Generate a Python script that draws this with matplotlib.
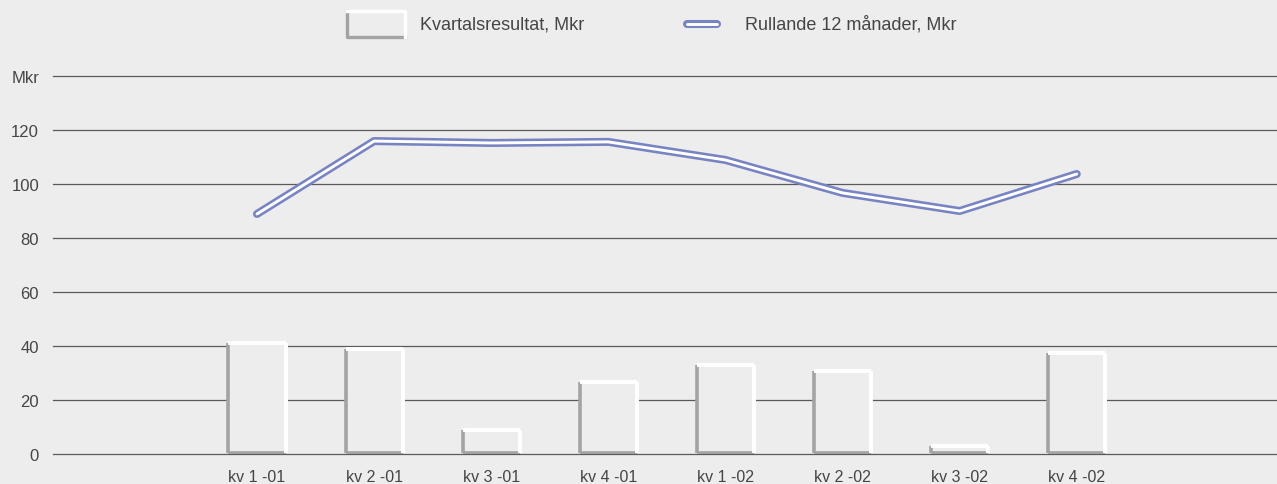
"""
Kvartalsresultat och rullande 12 manader, Mkr.
"""
import matplotlib
matplotlib.use("Agg")
import matplotlib.pyplot as plt
from matplotlib.patches import Rectangle
from matplotlib.lines import Line2D

quarters = ['kv 1 -01', 'kv 2 -01', 'kv 3 -01', 'kv 4 -01',
            'kv 1 -02', 'kv 2 -02', 'kv 3 -02', 'kv 4 -02']
kvartal = [40.7, 38.5, 8.5, 26.3, 32.6, 30.4, 2.6, 37.0]
rullande = [88.9, 115.9, 115.2, 115.6, 108.9, 96.7, 90.0, 103.7]
ytick_values = [0, 20, 40, 60, 80, 100, 120, 140]
ytick_labels = ['0', '20', '40', '60', '80', '100', '120', 'Mkr']

BG = '#ededed'
BLUE = '#7884c2'
DARK = '#454545'
SHADE = '#a3a3a3'
FONT = 'Liberation Sans'

W, H = 1277, 485
fig = plt.figure(figsize=(W / 100, H / 100), dpi=100, facecolor=BG)
ax = fig.add_axes([53 / W, (H - 455) / H, 1 - 53 / W, (455 - 77) / H])
ax.set_facecolor(BG)

xs = list(range(len(quarters)))
bw = 0.487
ax.set_xlim(-1.742, 8.71)
ax.set_ylim(0, 140)

for v in ytick_values:
    ax.axhline(v, color='#5a5a5a', lw=0.9, zorder=1, clip_on=False)

# bars with a bevelled look
off = 0.5
for x, h in zip(xs, kvartal):
    ax.bar(x, h, bw, bottom=off, color=BG, zorder=2)
    l, r = x - bw / 2, x + bw / 2
    ax.plot([l, l], [off, off + h], color=SHADE, lw=2.6, zorder=3, solid_capstyle='butt')
    ax.plot([l, r], [off, off], color=SHADE, lw=2.6, zorder=3, solid_capstyle='butt')
    ax.plot([r, r], [off, off + h], color='white', lw=2.8, zorder=4, solid_capstyle='butt')
    ax.plot([l, r], [off + h, off + h], color='white', lw=2.8, zorder=4, solid_capstyle='butt')

# rolling 12 month line
ax.plot(xs, rullande, color=BLUE, lw=5.8, solid_capstyle='round', zorder=5)
ax.plot(xs, rullande, color='white', lw=2.1, solid_capstyle='round', zorder=6)

ax.set_xticks(xs)
ax.set_xticklabels(quarters, fontsize=11.5, color=DARK, family=FONT)
ax.set_yticks(ytick_values)
ax.set_yticklabels(ytick_labels, fontsize=12, color=DARK, family=FONT)
ax.tick_params(length=0, axis='y', pad=10)
ax.tick_params(length=0, axis='x', pad=11)
for s in ax.spines.values():
    s.set_visible(False)

# legend
rx0, rx1, ry0, ry1 = 347 / W, 405 / W, 1 - 38 / H, 1 - 12 / H
fig.add_artist(Rectangle((rx0, ry0), rx1 - rx0, ry1 - ry0, facecolor=BG, edgecolor='none'))
fig.add_artist(Line2D([rx0, rx0, rx1], [ry1, ry0, ry0], color=SHADE, lw=2.4))
fig.add_artist(Line2D([rx0, rx1, rx1], [ry1, ry1, ry0], color='white', lw=2.4))
fig.text(420 / W, 1 - 25 / H, 'Kvartalsresultat, Mkr', fontsize=13, color=DARK,
         family=FONT, va='center')
ly = 1 - 25 / H
fig.add_artist(Line2D([687 / W, 717 / W], [ly, ly], color=BLUE, lw=5.8, solid_capstyle='round'))
fig.add_artist(Line2D([687 / W, 717 / W], [ly, ly], color='white', lw=2.1, solid_capstyle='round'))
fig.text(745 / W, ly, 'Rullande 12 månader, Mkr', fontsize=13, color=DARK,
         family=FONT, va='center')

fig.savefig('out.png', dpi=100, facecolor=BG)
